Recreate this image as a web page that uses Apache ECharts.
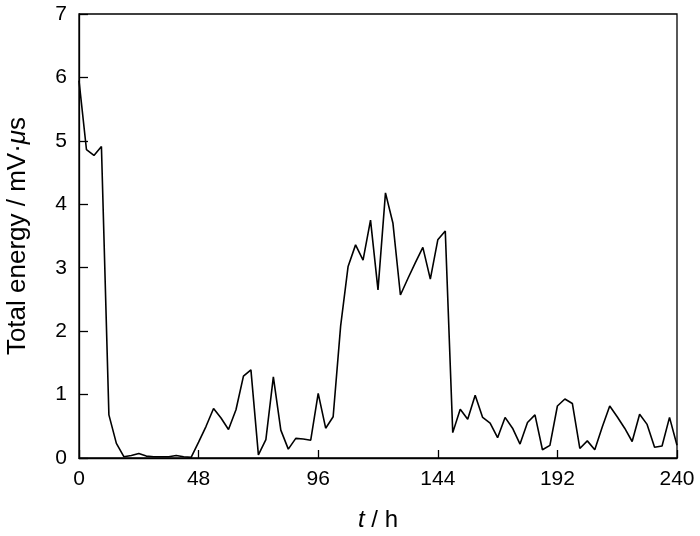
<!DOCTYPE html>
<html><head><meta charset="utf-8">
<script src="https://cdn.jsdelivr.net/npm/echarts@6/dist/echarts.min.js"></script>
<style>html,body{margin:0;padding:0;background:#fff}#c{width:700px;height:536px}</style>
</head><body><div id="c"></div>
<script>
const times = [0,3,6,9,12,15,18,21,24,27,30,33,36,39,42,45,48,51,54,57,60,63,66,69,72,75,78,81,84,87,90,93,96,99,102,105,108,111,114,117,120,123,126,129,132,135,138,141,144,147,150,153,156,159,162,165,168,171,174,177,180,183,186,189,192,195,198,201,204,207,210,213,216,219,222,225,228,231,234,237,240];
const energy = [5.95,4.86,4.77,4.91,0.68,0.23,0.02,0.04,0.07,0.03,0.02,0.02,0.02,0.04,0.02,0.01,0.25,0.5,0.78,0.63,0.45,0.76,1.29,1.39,0.05,0.29,1.28,0.44,0.14,0.31,0.30,0.28,1.02,0.47,0.65,2.08,3.02,3.36,3.12,3.75,2.65,4.18,3.70,2.57,2.83,3.08,3.32,2.82,3.44,3.58,0.40,0.77,0.61,0.99,0.64,0.55,0.32,0.64,0.47,0.22,0.56,0.68,0.13,0.20,0.82,0.93,0.86,0.15,0.27,0.13,0.49,0.82,0.65,0.47,0.26,0.69,0.53,0.17,0.19,0.64,0.20];
const xTicks = [0,48,96,144,192,240];
const yTicks = [0,1,2,3,4,5,6,7];

const chart = echarts.init(document.getElementById('c'));
const font = 'Liberation Sans, Arial, sans-serif';
chart.setOption({
  animation:false,
  grid:{left:79,right:23,top:14,bottom:78,outerBoundsMode:'none',containLabel:false,show:true,borderColor:'#000',borderWidth:1.3,backgroundColor:'transparent'},
  xAxis:{type:'value',min:xTicks[0],max:xTicks[xTicks.length-1],interval:48,
    axisLine:{lineStyle:{color:'#000',width:1.3}},
    axisTick:{inside:true,length:8,lineStyle:{color:'#000',width:1.3}},
    axisLabel:{color:'#000',fontFamily:font,fontSize:21,margin:11},
    splitLine:{show:false},
    name:'{i|t}{a| / h}',nameLocation:'middle',nameGap:50,
    nameTextStyle:{rich:{i:{fontStyle:'italic',fontFamily:font,fontSize:24,color:'#000'},a:{fontFamily:font,fontSize:24,color:'#000'}}}
  },
  yAxis:{type:'value',min:yTicks[0],max:yTicks[yTicks.length-1],interval:1,
    axisLine:{lineStyle:{color:'#000',width:1.3}},
    axisTick:{inside:true,length:9,lineStyle:{color:'#000',width:1.3}},
    axisLabel:{color:'#000',fontFamily:font,fontSize:21,margin:12},
    splitLine:{show:false},
    name:'{a|Total energy / mV·}{i|μ}{a|s}',nameLocation:'middle',nameGap:48,nameRotate:90,
    nameTextStyle:{rich:{i:{fontStyle:'italic',fontFamily:font,fontSize:26,color:'#000'},a:{fontFamily:font,fontSize:26,color:'#000'}}}
  },
  series:[{type:'line',data:times.map((t,i)=>[t,energy[i]]),symbol:'none',
    lineStyle:{color:'#000',width:1.6},itemStyle:{color:'#000'}}]
});
</script></body></html>
